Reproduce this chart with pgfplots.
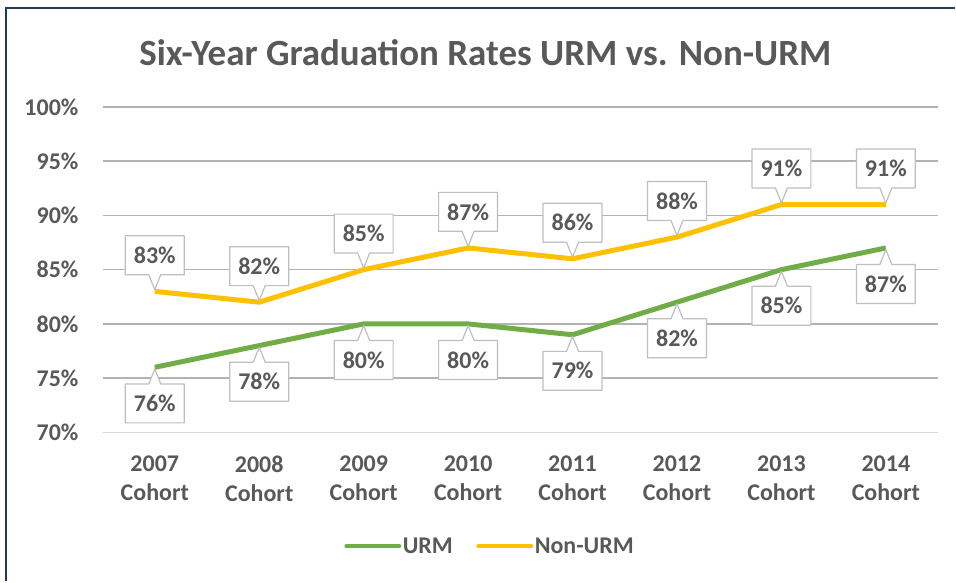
\documentclass[border=0pt]{standalone}
\usepackage{pgfplots}
\pgfplotsset{compat=1.18}
\usepackage{fontspec}
\setmainfont{Carlito}
\usetikzlibrary{shapes.callouts}
\definecolor{txt}{HTML}{595959}
\definecolor{grd}{HTML}{B3B3B3}
\definecolor{urm}{HTML}{70AD47}
\definecolor{nurm}{HTML}{FFC000}
\definecolor{frame}{HTML}{1F3B5C}
\definecolor{boxc}{HTML}{BFBFBF}
\newcommand{\lblfont}{\fontsize{24}{29}\selectfont\bfseries}
\begin{document}
\begin{tikzpicture}
\fill[white] (0pt,0pt) rectangle (956pt,582pt);
\draw[frame, line width=2.5pt] (6pt,0pt) -- (6pt,574pt) -- (956pt,574pt);
\node[anchor=base, text=txt, font=\fontsize{37}{44}\selectfont\bfseries, inner sep=0pt] at (486pt,516pt) {Six-Year Graduation Rates URM vs. Non-URM};
\begin{axis}[
  at={(102.7pt,149pt)}, anchor=south west,
  scale only axis, width=836.6pt, height=326pt,
  xmin=-0.5, xmax=7.5, ymin=70, ymax=100,
  ytick={70,75,...,100},
  xtick={0,1,...,7},
  xticklabels={{2007\\Cohort},{2008\\Cohort},{2009\\Cohort},{2010\\Cohort},{2011\\Cohort},{2012\\Cohort},{2013\\Cohort},{2014\\Cohort}},
  yticklabel={\pgfmathprintnumber[assume math mode=true]{\tick}\%},
  xticklabel style={align=center, anchor=north, inner sep=0pt, yshift=-23pt, text=txt, font=\lblfont,
    execute at begin node={\rule{0pt}{16pt}}},
  yticklabel style={anchor=east, inner sep=0pt, xshift=-24pt, text=txt, font=\lblfont},
  major tick length=0pt,
  tick style={draw=none},
  axis x line*=bottom,
  axis y line*=left,
  y axis line style={draw=none},
  x axis line style={draw=gray!30, line width=1.5pt, -},
  ymajorgrids,
  grid style={draw=grd, line width=1.5pt},
  clip=false,
  legend style={at={(0.4635,-0.3497)}, anchor=center, draw=none, fill=none,
    legend columns=2, font=\lblfont, text=txt, inner sep=0pt,
    nodes={inner sep=1.5pt},
    /tikz/every even column/.append style={column sep=22pt}},
  legend image code/.code={\draw[#1, line width=4pt, line cap=round] (0pt,0pt) -- (53pt,0pt);},
  every node near coord/.append style={rectangle callout, draw=boxc, fill=white, line width=1.2pt,
    minimum width=59pt, minimum height=39pt, inner sep=0pt, text=txt, font=\lblfont,
    callout pointer width=12pt},
  nodes near coords={\pgfmathprintnumber[assume math mode=true]{\pgfplotspointmeta}\%},
]
\addplot[urm, line width=5pt, line join=round,
  nodes near coords style={callout relative pointer={(0pt,15pt)}, anchor=pointer}]
  coordinates {(0,76) (1,78) (2,80) (3,80) (4,79) (5,82) (6,85) (7,87)};
\addlegendentry{URM}
\addplot[nurm, line width=5pt, line join=round,
  nodes near coords style={callout relative pointer={(0pt,-15pt)}, anchor=pointer}]
  coordinates {(0,83) (1,82) (2,85) (3,87) (4,86) (5,88) (6,91) (7,91)};
\addlegendentry{Non-URM}
\end{axis}
\end{tikzpicture}
\end{document}
